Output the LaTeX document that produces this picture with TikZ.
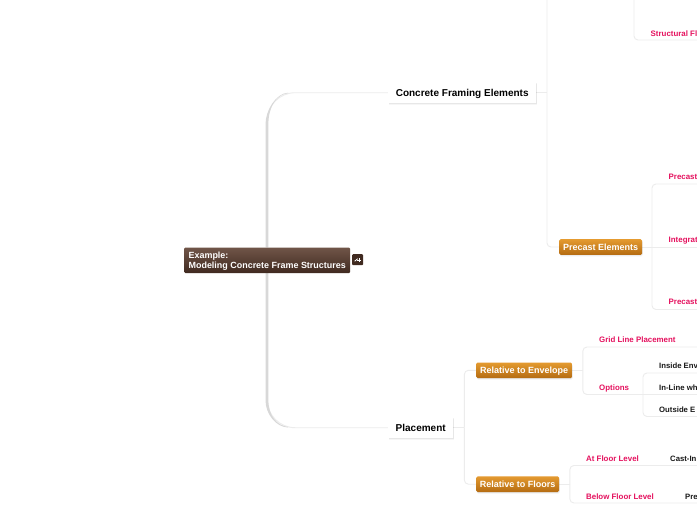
\documentclass[tikz,border=0pt]{standalone}
\usepackage{fontspec}
\setmainfont{Liberation Sans}
\usetikzlibrary{shadows,calc}
\definecolor{linec}{HTML}{ECECEC}
\definecolor{pinkc}{HTML}{E5115E}
\definecolor{trunkc}{HTML}{D8D8D8}
\definecolor{rootT}{HTML}{705548}
\definecolor{rootB}{HTML}{402A20}
\definecolor{orangeT}{HTML}{E49A30}
\definecolor{orangeB}{HTML}{B56C12}
\tikzset{
 x=1pt,y=-1pt,
 conn/.style={draw=linec,line width=0.9pt,rounded corners=4pt},
 softshadow/.style={
   general shadow={fill=black,opacity=.035,shadow xshift=0.6pt,shadow yshift=-1.8pt},
   general shadow={fill=black,opacity=.06,shadow xshift=0.3pt,shadow yshift=-0.8pt}},
 rootbox/.style={rounded corners=1.2pt,shade,top color=rootT,bottom color=rootB,text=white,font=\fontsize{8.95}{10}\selectfont\bfseries,
   align=left,anchor=north west,inner xsep=4pt,inner ysep=0pt,minimum width=166pt,minimum height=25.5pt},
 whitebox/.style={fill=white,softshadow,font=\fontsize{10}{11}\selectfont\bfseries,text=black,inner sep=0pt,anchor=north west,minimum height=21pt,text height=7.2pt,text depth=0pt},
 orangebox/.style={rounded corners=1.5pt,shade,top color=orangeT,bottom color=orangeB,softshadow,text=white,
   font=\fontsize{9}{10}\selectfont\bfseries,inner sep=0pt,anchor=north west,minimum height=15.6pt,text height=6.5pt,text depth=0pt},
 pinklabel/.style={text=pinkc,font=\fontsize{7.9}{8}\selectfont\bfseries,inner sep=0pt,anchor=west,text height=5.7pt,text depth=0pt},
 blacklabel/.style={text=black!90,font=\fontsize{7.75}{8}\selectfont\bfseries,inner sep=0pt,anchor=west,text height=5.6pt,text depth=0pt},
}
\begin{document}
\begin{tikzpicture}
\useasboundingbox (0,0) rectangle (697,520);
\clip (0,0) rectangle (697,520);
\fill[white] (0,0) rectangle (697,520);
% free ends at the picture edges
\coordinate (topA) at (547,0);
\coordinate (topB) at (634,0);
\coordinate (endS) at (697,40);
\coordinate (endP1) at (697,184);
\coordinate (endP2) at (697,247);
\coordinate (endP3) at (697,309.5);
\coordinate (endG) at (697,347);
\coordinate (endO1) at (697,373);
\coordinate (endO2) at (697,394.5);
\coordinate (endO3) at (697,416.5);
\coordinate (endF1) at (697,465.5);
\coordinate (endF2) at (697,503);
\pgfdeclarelayer{front}\pgfsetlayers{main,front}
\begin{pgfonlayer}{front}
\node[rootbox] (root) at (184,247.3) {\rule{0pt}{8.5pt}Example:\\[-0.3pt]Modeling Concrete Frame Structures};
\node[whitebox,minimum width=148pt] (cfe) at (388,82) {Concrete Framing Elements};
\node[whitebox,minimum width=65pt] (plc) at (388,417) {Placement};
\node[orangebox,minimum width=83pt] (pe) at (559,239) {Precast Elements};
\node[orangebox,minimum width=96pt] (re) at (476,362.3) {Relative to Envelope};
\node[orangebox,minimum width=83pt] (rf) at (476,476.2) {Relative to Floors};
\node[pinklabel] (s) at (650.5,33.5) {Structural Fl};
\node[pinklabel] (p1) at (668.5,176.5) {Precast};
\node[pinklabel] (p2) at (668.5,239.5) {Integrat};
\node[pinklabel] (p3) at (668.5,302) {Precast};
\node[pinklabel] (g) at (599,339.5) {Grid Line Placement};
\node[pinklabel] (o) at (599,387.5) {Options};
\node[blacklabel] (o1) at (659,365.5) {Inside Env};
\node[blacklabel] (o2) at (659,387.5) {In-Line wh};
\node[blacklabel] (o3) at (659,409.5) {Outside E};
\node[pinklabel] (f1) at (586,458.5) {At Floor Level};
\node[blacklabel] (c1) at (670,458.5) {Cast-In};
\node[pinklabel] (f2) at (586,496.5) {Below Floor Level};
\node[blacklabel] (c2) at (685,496.5) {Pre};
\node[fill=rootB,rounded corners=1pt,minimum size=11pt,inner sep=0pt,anchor=north west] (icon) at (352,254) {};
\draw[white,line width=0.8pt] ($(icon.center)+(-3,1.5)$) -- ($(icon.center)+(0,-1)$);
\draw[white,line width=0.9pt] ($(icon.center)+(-0.5,0.5)$) -- ($(icon.center)+(3.5,0.5)$);
\draw[white,line width=0.9pt] ($(icon.center)+(1.5,-1.5)$) -- ($(icon.center)+(1.5,2.5)$);
\end{pgfonlayer}
% trunk
\draw[conn,rounded corners=28pt] (root.north) |- (cfe.west);
\draw[conn,rounded corners=28pt] (root.south) |- (plc.west);
\fill[trunkc] (root.north) ++(-1.7,0) -- ++(0,-123) .. controls ++(0,-14) and (276,93.4) .. (288,92.7) -- (288,93.3) .. controls (277,94.5) and (268.4,106) .. (268.4,124) -- (268.4,247.3) -- cycle;
\fill[trunkc] (root.south) ++(-1.7,0) -- ++(0,127) .. controls ++(0,14) and (276,427) .. (288,427.5) -- (288,426.9) .. controls (277,425.5) and (268.4,416) .. (268.4,400) -- (268.4,272.8) -- cycle;
% upper branch
\draw[conn] (cfe.east) -- (topA |- cfe.east);
\draw[conn] (topA) |- (pe.west);
\draw[conn] (topB) |- (endS);
\draw[conn] (pe.east) -- (endP2);
\draw[conn] (652,247) |- (endP1);
\draw[conn] (652,247) |- (endP3);
% lower branch
\draw[conn] (plc.east) -- ++(11,0) coordinate (j);
\draw[conn] (j) |- (re.west);
\draw[conn] (j) |- (rf.west);
\draw[conn] (re.east) -- ++(10.5,0) coordinate (k);
\draw[conn] (k) |- (endG);
\draw[conn] (k) |- (endO2);
\draw[conn] (643,394.5) |- (endO1);
\draw[conn] (643,394.5) |- (endO3);
\draw[conn] (rf.east) -- ++(10.5,0) coordinate (m);
\draw[conn] (m) |- (endF1);
\draw[conn] (m) |- (endF2);
\end{tikzpicture}
\end{document}
